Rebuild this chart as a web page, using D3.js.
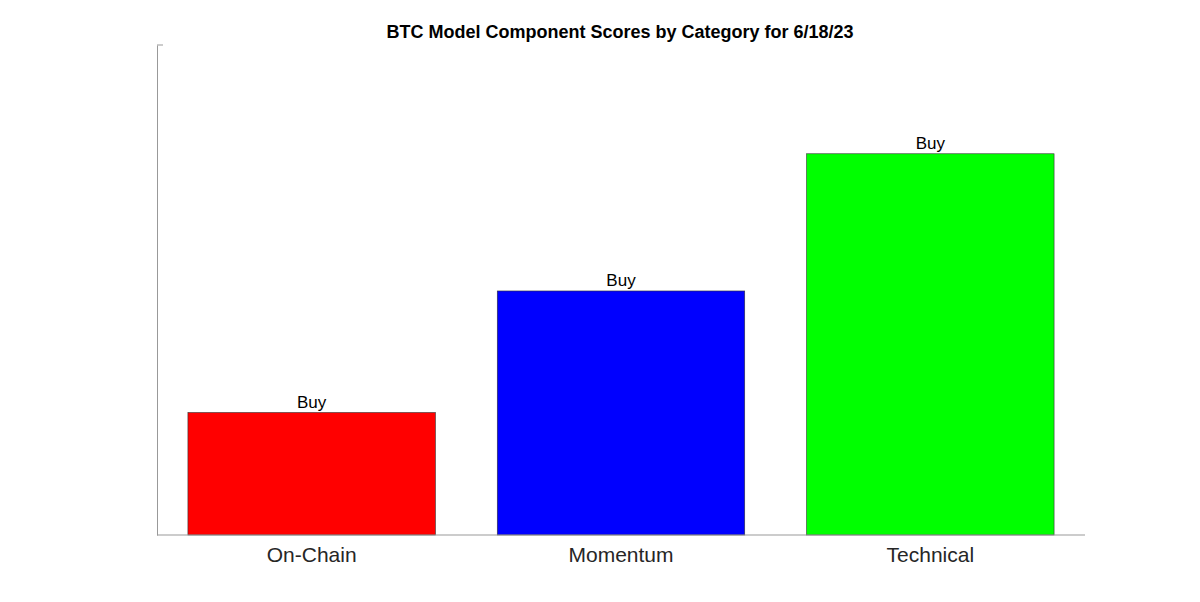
<!DOCTYPE html>
<html>
<head>
<meta charset="utf-8">
<script src="https://cdn.jsdelivr.net/npm/d3@7"></script>
<style>
  body { margin: 0; background: #fff; }
  text { font-family: "Liberation Sans", Arial, sans-serif; }
</style>
</head>
<body>
<script>
// chart data
const categories = ["On-Chain", "Momentum", "Technical"];
const scores = [0.25, 0.498, 0.778];
const signals = ["Buy", "Buy", "Buy"];
const barColors = ["#ff0000", "#0000ff", "#00ff00"];

const W = 1200, H = 602;
const margin = { top: 45, right: 115, bottom: 67, left: 157 };

const svg = d3.select("body").append("svg")
  .attr("width", W)
  .attr("height", H);

const x = d3.scaleBand()
  .domain(categories)
  .range([margin.left, W - margin.right])
  .paddingInner(0.2)
  .paddingOuter(0.1);

const y = d3.scaleLinear()
  .domain([0, 1])
  .range([H - margin.bottom, margin.top]);

svg.append("text")
  .attr("x", 620)
  .attr("y", 38)
  .attr("text-anchor", "middle")
  .style("font-size", "18px")
  .style("font-weight", "bold")
  .text("BTC Model Component Scores by Category for 6/18/23");

// bars
svg.selectAll("rect.bar").data(categories)
  .enter().append("rect")
  .attr("class", "bar")
  .attr("x", d => x(d))
  .attr("width", x.bandwidth())
  .attr("y", (d, i) => y(scores[i]))
  .attr("height", (d, i) => y(0) - y(scores[i]))
  .attr("fill", (d, i) => barColors[i])
  .attr("stroke", "#333")
  .attr("stroke-width", 0.6);

svg.selectAll("text.lbl").data(categories)
  .enter().append("text")
  .attr("class", "lbl")
  .attr("x", d => x(d) + x.bandwidth() / 2)
  .attr("y", (d, i) => y(scores[i]) - 5)
  .attr("text-anchor", "middle")
  .style("font-size", "17px")
  .text((d, i) => signals[i]);

// axes
const xAxis = svg.append("g")
  .attr("transform", `translate(0, ${y(0)})`)
  .call(d3.axisBottom(x).tickSize(0).tickPadding(12));
xAxis.select(".domain").attr("stroke", "#999").attr("d", `M${margin.left},0H${W - margin.right}`);
xAxis.selectAll("text").style("font-size", "21px").attr("fill", "#262626");

const yAxis = svg.append("g")
  .attr("transform", `translate(${margin.left}, 0)`)
  .call(d3.axisLeft(y).tickValues([]).tickSizeOuter(0));
yAxis.select(".domain").attr("stroke", "#999");
svg.append("line")
  .attr("x1", margin.left).attr("x2", margin.left + 6)
  .attr("y1", y(1)).attr("y2", y(1))
  .attr("stroke", "#999");
</script>
</body>
</html>
